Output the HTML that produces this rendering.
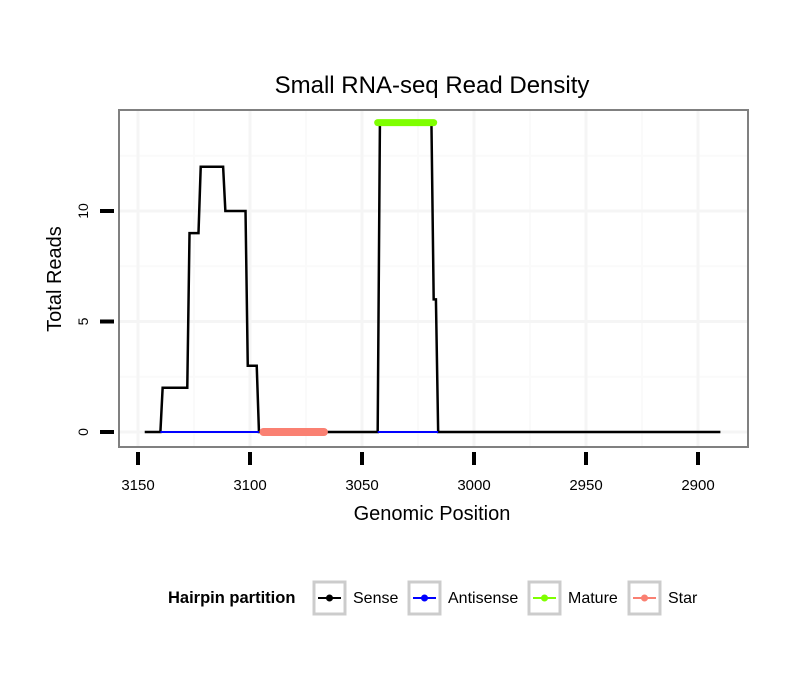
<!DOCTYPE html>
<html><head><meta charset="utf-8"><style>
body{margin:0;background:#fff;font-family:"Liberation Sans",sans-serif}
</style></head><body>
<svg id="chart" width="810" height="690" xmlns="http://www.w3.org/2000/svg">
<rect width="810" height="690" fill="#fff"/>
<text x="432" y="93" font-size="24" text-anchor="middle">Small RNA-seq Read Density</text>
<g id="grid"></g>
<g id="series"></g>
<rect x="119" y="110" width="629" height="337" fill="none" stroke="#808080" stroke-width="2"/>
<g id="axes"></g>
<text x="432" y="520" font-size="20" text-anchor="middle">Genomic Position</text>
<text transform="translate(61,279) rotate(-90)" font-size="20" text-anchor="middle">Total Reads</text>
<g font-size="16">
<text x="168" y="603" font-weight="bold" font-size="16.5">Hairpin partition</text>
<g id="legend"></g>
</g>
</svg>
<script>
const xTicks=[3150,3100,3050,3000,2950,2900];
const yTicks=[0,5,10];
const senseX=[3147,3140,3139,3128,3127,3123,3122,3112,3111,3102,3101,3097,3096,3043,3042,3019,3018,3017,3016,2890];
const senseY=[0,0,2,2,9,9,12,12,10,10,3,3,0,0,14,14,6,6,0,0];
const antisenseRanges=[[3140,3096],[3043,3016]];
const matureRange=[3043,3018];
const matureValue=14;
const starRange=[3094,3067];
const starValue=0;
const legendLabels=["Sense","Antisense","Mature","Star"];
const legendColors=["#000","#0000ff","#7fff00","#fa8072"];

const NS="http://www.w3.org/2000/svg";
const X=v=>138+(3150-v)*2.24;
const Y=v=>432-v*22.1;
function mk(tag,attrs,parent){const e=document.createElementNS(NS,tag);for(const k in attrs)e.setAttribute(k,attrs[k]);parent.appendChild(e);return e;}
const grid=document.getElementById('grid'),ser=document.getElementById('series'),ax=document.getElementById('axes'),lg=document.getElementById('legend');
for(let i=0;i<xTicks.length-1;i++){const m=(xTicks[i]+xTicks[i+1])/2;const l=mk('line',{x1:X(m),x2:X(m),y1:110,y2:447,stroke:'#fafafa','stroke-width':2},grid);

}
[2.5,7.5,12.5].forEach(v=>{const l=mk('line',{x1:119,x2:748,y1:Y(v),y2:Y(v),stroke:'#fafafa','stroke-width':2},grid);

});
xTicks.forEach(v=>{const l=mk('line',{x1:X(v),x2:X(v),y1:110,y2:447,stroke:'#f5f5f5','stroke-width':3},grid);


const t=mk('line',{x1:X(v),x2:X(v),y1:452,y2:465,stroke:'#000','stroke-width':4},ax);


const tx=mk('text',{x:X(v),y:490,'font-size':15,'text-anchor':'middle'},ax);tx.textContent=v;

});
yTicks.forEach(v=>{const l=mk('line',{x1:119,x2:748,y1:Y(v),y2:Y(v),stroke:'#f5f5f5','stroke-width':3},grid);


const t=mk('line',{x1:100,x2:114,y1:Y(v),y2:Y(v),stroke:'#000','stroke-width':4},ax);


const tx=mk('text',{transform:`translate(88,${Y(v)}) rotate(-90)`,'font-size':14,'text-anchor':'middle'},ax);tx.textContent=v;

});
const sp=mk('polyline',{points:senseX.map((x,i)=>X(x)+','+Y(senseY[i])).join(' '),fill:'none',stroke:'#000','stroke-width':2.5},ser);


antisenseRanges.forEach(r=>{const l=mk('line',{x1:X(r[0]),x2:X(r[1]),y1:Y(0),y2:Y(0),stroke:'#0000ff','stroke-width':2},ser);

});
const ml=mk('line',{x1:X(matureRange[0]),x2:X(matureRange[1]),y1:Y(matureValue),y2:Y(matureValue),stroke:'#7fff00','stroke-width':7,'stroke-linecap':'round'},ser);


const sl=mk('line',{x1:X(starRange[0]),x2:X(starRange[1]),y1:Y(starValue),y2:Y(starValue),stroke:'#fa8072','stroke-width':8,'stroke-linecap':'round'},ser);


const keyX=[314,409,529,629];
legendLabels.forEach((lab,i)=>{const x=keyX[i];
const g=mk('g',{},lg);


mk('rect',{x:x,y:582,width:31,height:32,fill:'#fff',stroke:'#cccccc','stroke-width':3},g);
mk('line',{x1:x+4,x2:x+27,y1:598,y2:598,stroke:legendColors[i],'stroke-width':2},g);
mk('circle',{cx:x+15.5,cy:598,r:3.5,fill:legendColors[i]},g);
const t=mk('text',{x:x+39,y:603},g);t.textContent=lab;});
</script>
</body></html>
